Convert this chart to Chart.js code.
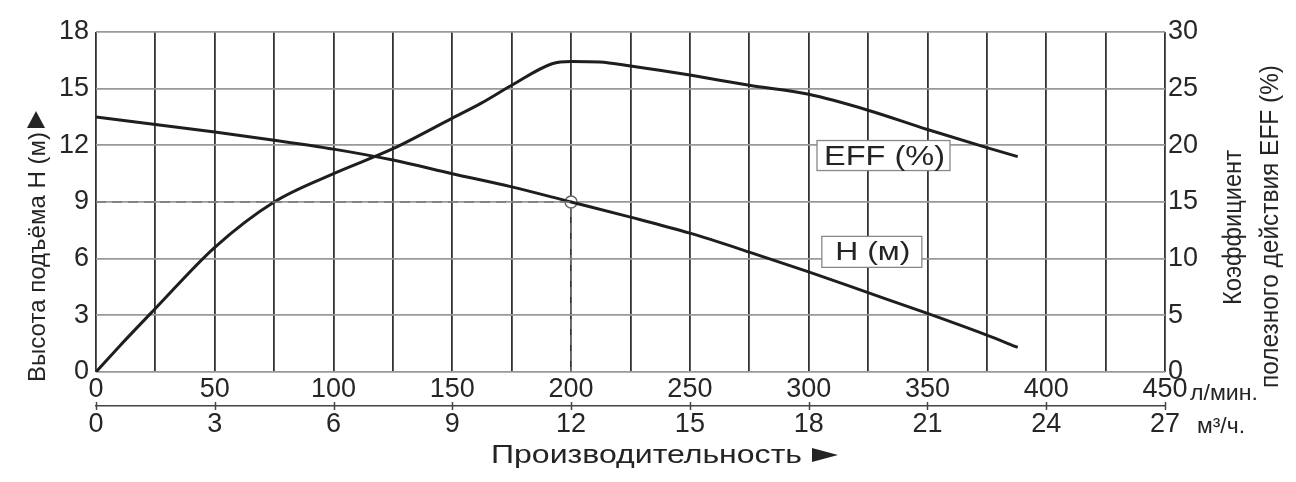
<!DOCTYPE html>
<html>
<head>
<meta charset="utf-8">
<script src="https://cdn.jsdelivr.net/npm/chart.js@4.4.1/dist/chart.umd.min.js"></script>
<style>
  html, body { margin: 0; padding: 0; background: #fff; }
  #wrap { width: 1296px; height: 482px; }
</style>
</head>
<body>
<div id="wrap"><canvas id="chart" width="1296" height="482"></canvas></div>
<script>
// Head curve H (m) vs flow (l/min)
const headFlow = [0, 25, 50, 75, 100, 125, 150, 175, 200, 225, 250, 275, 300, 325, 350, 375, 388];
const headM    = [13.5, 13.1, 12.7, 12.27, 11.8, 11.22, 10.5, 9.8, 9.0, 8.2, 7.35, 6.35, 5.3, 4.2, 3.1, 1.95, 1.3];

// Efficiency curve EFF (%) vs flow (l/min)
const effFlow = [0, 10, 25, 50, 75, 100, 125, 150, 162, 175, 192, 200, 212, 225, 250, 275, 300, 325, 350, 375, 388];
const effPct  = [0, 2.3, 5.6, 11.0, 15.0, 17.5, 19.7, 22.4, 23.7, 25.3, 27.2, 27.4, 27.35, 27.0, 26.2, 25.3, 24.5, 23.1, 21.4, 19.8, 19.0];

// Operating point and its dashed guide
const dutyFlow = [200];
const dutyHead = [9];
const guideFlow = [0, 200, 200];
const guideHead = [9, 9, 0];

// Axis ranges / ticks
const flowMax = 450, flowStep = 25, flowLabelStep = 50;
const m3hMax = 27, m3hStep = 3;
const headMax = 18, headStep = 3;
const effMax = 30, effStep = 5;

const FONT = '"Liberation Sans", Arial, sans-serif';
const INK = '#242424';

const toXY = (xs, ys) => xs.map((v, i) => ({ x: v, y: ys[i] }));

// draw text with a given cap height, stretched to a given length
function fitText(ctx, text, cx, cy, len, capH, vertical) {
  const px = capH / 0.716;
  ctx.save();
  ctx.font = px + 'px ' + FONT;
  ctx.fillStyle = INK;
  const w = ctx.measureText(text).width;
  ctx.translate(cx, cy);
  if (vertical) ctx.rotate(-Math.PI / 2);
  ctx.scale(len / w, 1);
  ctx.textAlign = 'center';
  ctx.textBaseline = 'alphabetic';
  ctx.fillText(text, 0, capH / 2);
  ctx.restore();
}

function tri(ctx, pts) {
  ctx.beginPath();
  ctx.moveTo(pts[0][0], pts[0][1]);
  ctx.lineTo(pts[1][0], pts[1][1]);
  ctx.lineTo(pts[2][0], pts[2][1]);
  ctx.closePath();
  ctx.fillStyle = INK;
  ctx.fill();
}

const decor = {
  id: 'decor',
  afterDraw(chart) {
    const { ctx, scales } = chart;
    const { x, x2, y, y1 } = scales;

    // tick marks crossing the m3/h axis line
    ctx.save();
    ctx.strokeStyle = '#444';
    ctx.lineWidth = 1.5;
    x2.ticks.forEach(t => {
      const px = Math.round(x2.getPixelForValue(t.value)) + 0.5;
      ctx.beginPath();
      ctx.moveTo(px, x2.top - 4);
      ctx.lineTo(px, x2.top + 4);
      ctx.stroke();
    });
    ctx.restore();

    // curve tags
    const tags = [
      { text: 'EFF (%)', cx: x.getPixelForValue(331.5), cy: y1.getPixelForValue(19.1), w: 133, h: 30, len: 121, cap: 20 },
      { text: 'H (м)', cx: x.getPixelForValue(326.6), cy: y.getPixelForValue(6.36), w: 100, h: 31, len: 75, cap: 18 }
    ];
    tags.forEach(t => {
      ctx.save();
      ctx.fillStyle = '#fff';
      ctx.strokeStyle = '#888';
      ctx.lineWidth = 1.3;
      ctx.fillRect(t.cx - t.w / 2, t.cy - t.h / 2, t.w, t.h);
      ctx.strokeRect(t.cx - t.w / 2, t.cy - t.h / 2, t.w, t.h);
      ctx.restore();
      fitText(ctx, t.text, t.cx + 1, t.cy - 0.5, t.len, t.cap, false);
    });

    // axis titles
    fitText(ctx, 'Высота подъёма H (м)', 36, 257, 250, 17.5, true);
    tri(ctx, [[36, 111], [45, 128], [27, 128]]);

    fitText(ctx, 'Коэффициент', 1231, 227.5, 155, 19, true);
    fitText(ctx, 'полезного действия EFF (%)', 1268, 226.5, 323, 19, true);

    fitText(ctx, 'Производительность', 646.5, 453, 311, 19, false);
    tri(ctx, [[812, 448], [838, 455], [812, 462]]);

    // units
    fitText(ctx, 'л/мин.', 1224, 392, 68, 16, false);
    fitText(ctx, 'м³/ч.', 1221, 425, 48, 16, false);
  }
};

const tickFont = { family: FONT, size: 27 };
const tickColor = '#262626';

new Chart(document.getElementById('chart'), {
  type: 'line',
  data: {
    datasets: [
      {
        data: toXY(guideFlow, guideHead),
        yAxisID: 'y',
        borderColor: '#7a7a7a',
        borderWidth: 1.6,
        borderDash: [10, 6],
        pointRadius: 0,
        tension: 0
      },
      {
        label: 'H (м)',
        data: toXY(headFlow, headM),
        yAxisID: 'y',
        borderColor: '#1e1e1e',
        borderWidth: 3,
        pointRadius: 0,
        cubicInterpolationMode: 'monotone'
      },
      {
        label: 'EFF (%)',
        data: toXY(effFlow, effPct),
        yAxisID: 'y1',
        borderColor: '#1e1e1e',
        borderWidth: 3,
        pointRadius: 0,
        cubicInterpolationMode: 'monotone'
      },
      {
        data: toXY(dutyFlow, dutyHead),
        yAxisID: 'y',
        showLine: false,
        pointRadius: 6,
        pointBackgroundColor: '#fff',
        pointBorderColor: '#666',
        pointBorderWidth: 1.5
      }
    ]
  },
  options: {
    responsive: false,
    animation: false,
    layout: { padding: { top: 32, left: 0, right: 0, bottom: 0 } },
    plugins: { legend: { display: false }, tooltip: { enabled: false } },
    scales: {
      x: {
        type: 'linear',
        position: 'bottom',
        weight: 0,
        min: 0,
        max: flowMax,
        grid: { color: '#333', lineWidth: 1.8, drawTicks: false },
        border: { display: false },
        ticks: {
          stepSize: flowStep,
          autoSkip: false,
          maxRotation: 0,
          padding: 1,
          color: tickColor,
          font: tickFont,
          callback: v => (v % flowLabelStep === 0 ? String(v) : '')
        },
        afterFit: s => { s.height = 34; }
      },
      x2: {
        type: 'linear',
        position: 'bottom',
        weight: 1,
        min: 0,
        max: m3hMax,
        grid: { display: false, drawTicks: false },
        border: { display: true, color: '#444', width: 1.5 },
        ticks: { stepSize: m3hStep, autoSkip: false, maxRotation: 0, padding: 2, color: tickColor, font: tickFont },
        afterFit: s => { s.height = 76; }
      },
      y: {
        position: 'left',
        min: 0,
        max: headMax,
        grid: { color: '#999', lineWidth: 1.8, drawTicks: false },
        border: { display: false },
        ticks: { stepSize: headStep, padding: 7, color: tickColor, font: tickFont },
        afterFit: s => { s.width = 96; }
      },
      y1: {
        position: 'right',
        min: 0,
        max: effMax,
        grid: { drawOnChartArea: false, drawTicks: false },
        border: { display: false },
        ticks: { stepSize: effStep, padding: 3, color: tickColor, font: tickFont },
        afterFit: s => { s.width = 131; }
      }
    }
  },
  plugins: [decor]
});
</script>
</body>
</html>
